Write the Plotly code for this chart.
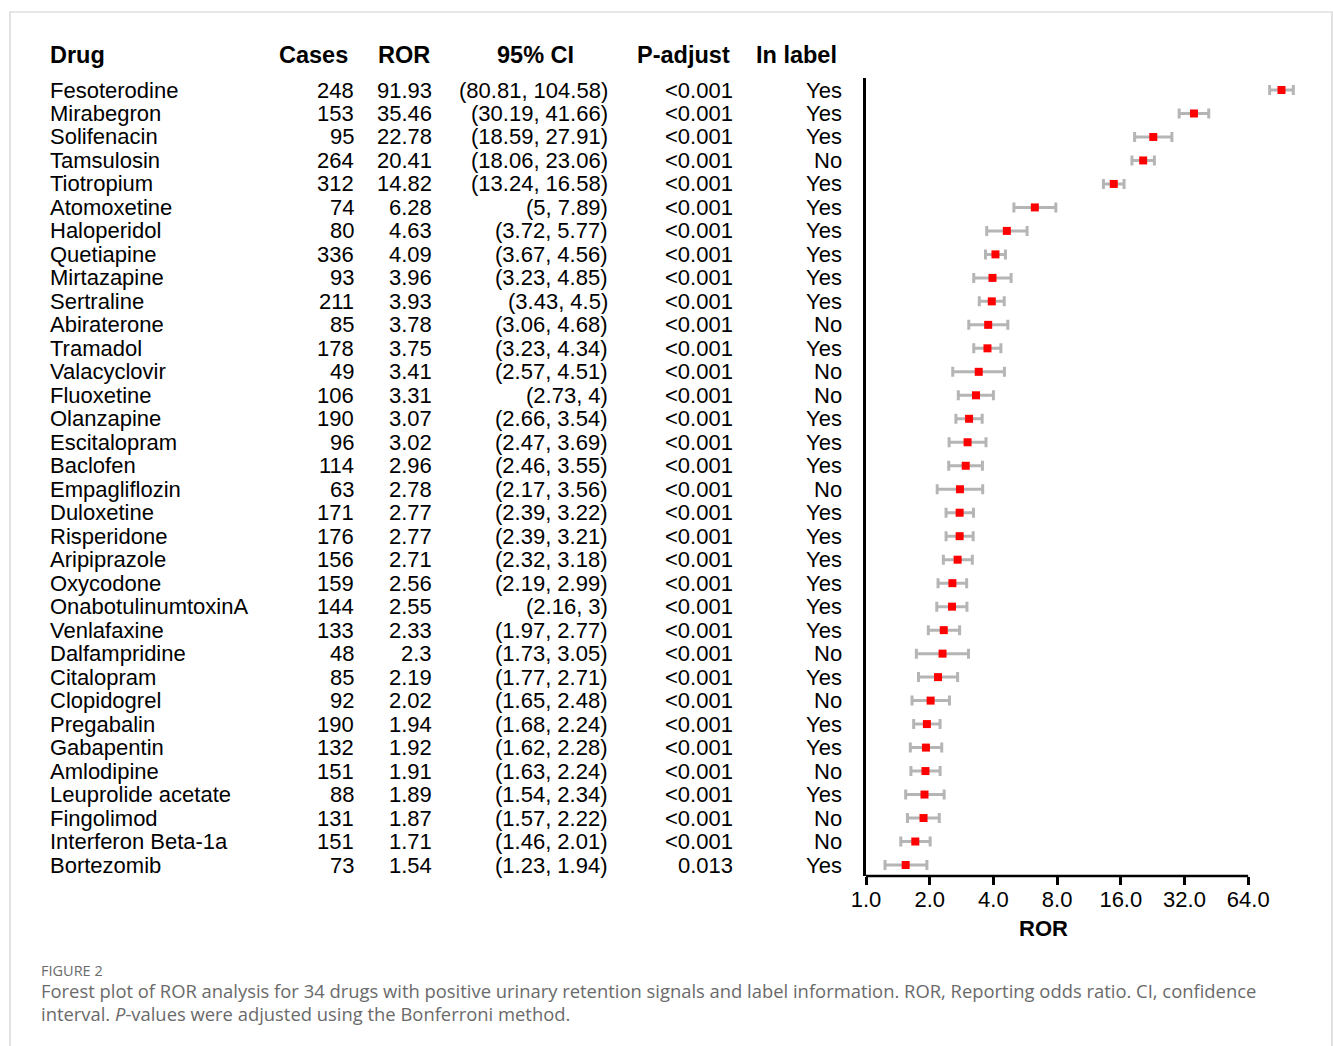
import math
import plotly.graph_objects as go

drugs = ["Fesoterodine", "Mirabegron", "Solifenacin", "Tamsulosin", "Tiotropium", "Atomoxetine",
         "Haloperidol", "Quetiapine", "Mirtazapine", "Sertraline", "Abiraterone", "Tramadol",
         "Valacyclovir", "Fluoxetine", "Olanzapine", "Escitalopram", "Baclofen", "Empagliflozin",
         "Duloxetine", "Risperidone", "Aripiprazole", "Oxycodone", "OnabotulinumtoxinA",
         "Venlafaxine", "Dalfampridine", "Citalopram", "Clopidogrel", "Pregabalin", "Gabapentin",
         "Amlodipine", "Leuprolide acetate", "Fingolimod", "Interferon Beta-1a", "Bortezomib"]
cases = [248, 153, 95, 264, 312, 74, 80, 336, 93, 211, 85, 178, 49, 106, 190, 96, 114, 63,
         171, 176, 156, 159, 144, 133, 48, 85, 92, 190, 132, 151, 88, 131, 151, 73]
ror = [91.93, 35.46, 22.78, 20.41, 14.82, 6.28, 4.63, 4.09, 3.96, 3.93, 3.78, 3.75, 3.41, 3.31,
       3.07, 3.02, 2.96, 2.78, 2.77, 2.77, 2.71, 2.56, 2.55, 2.33, 2.3, 2.19, 2.02, 1.94, 1.92,
       1.91, 1.89, 1.87, 1.71, 1.54]
ci_low = [80.81, 30.19, 18.59, 18.06, 13.24, 5, 3.72, 3.67, 3.23, 3.43, 3.06, 3.23, 2.57, 2.73,
          2.66, 2.47, 2.46, 2.17, 2.39, 2.39, 2.32, 2.19, 2.16, 1.97, 1.73, 1.77, 1.65, 1.68,
          1.62, 1.63, 1.54, 1.57, 1.46, 1.23]
ci_high = [104.58, 41.66, 27.91, 23.06, 16.58, 7.89, 5.77, 4.56, 4.85, 4.5, 4.68, 4.34, 4.51, 4,
           3.54, 3.69, 3.55, 3.56, 3.22, 3.21, 3.18, 2.99, 3, 2.77, 3.05, 2.71, 2.48, 2.24, 2.28,
           2.24, 2.34, 2.22, 2.01, 1.94]
p_adjust = ["<0.001"] * 33 + ["0.013"]
in_label = ["Yes", "Yes", "Yes", "No", "Yes", "Yes", "Yes", "Yes", "Yes", "Yes", "No", "Yes",
            "No", "No", "Yes", "Yes", "Yes", "No", "Yes", "Yes", "Yes", "Yes", "Yes", "Yes", "No",
            "Yes", "No", "Yes", "Yes", "No", "Yes", "No", "No", "Yes"]
headers = ["Drug", "Cases", "ROR", "95% CI", "P-adjust", "In label"]
x_ticks = [1, 2, 4, 8, 16, 32, 64]
x_tick_labels = ["1.0", "2.0", "4.0", "8.0", "16.0", "32.0", "64.0"]


def fmt(v):
    return ("%g" % v)


W, H = 1333, 1046
FONT = "Liberation Sans, Arial, sans-serif"
rows = list(range(len(drugs)))


def px(x):
    return x / W


def py(y):
    return 1 - y / H


# plot region
x_left_px, x_right_px = 866, 1310
px_per_doubling = 63.7
x_max_log2 = (x_right_px - x_left_px) / px_per_doubling
y_top_px, y_bot_px = 78, 876
row0_px, row_step = 90, (865 - 90) / 33
y_top_val = (y_top_px - row0_px) / row_step
y_bot_val = (y_bot_px - row0_px) / row_step

fig = go.Figure()
fig.add_trace(go.Scatter(
    x=ror, y=rows, mode="markers",
    marker=dict(symbol="square", size=8, color="#ff0000"),
    error_x=dict(type="data", symmetric=False,
                 array=[h - r for h, r in zip(ci_high, ror)],
                 arrayminus=[r - l for r, l in zip(ror, ci_low)],
                 color="#b5b5b5", thickness=3, width=5),
    showlegend=False, hoverinfo="skip"))

ann = []
hdr_font = dict(family=FONT, size=23.5, color="black")
hdr_pos = [(48, "left"), (350, "right"), (432, "right"), (535, "center"), (732, "right"), (839, "right")]
for h, (x, a) in zip(headers, hdr_pos):
    ann.append(dict(text="<b>%s</b>" % h, x=px(x), y=py(55), xref="paper", yref="paper",
                    xanchor=a, yanchor="middle", showarrow=False, font=hdr_font))

cell_font = dict(family=FONT, size=22, color="black")
for i in rows:
    cols = [(drugs[i], 48, "left"), (str(cases[i]), 356, "right"), (fmt(ror[i]), 434, "right"),
            ("(%s, %s)" % (fmt(ci_low[i]), fmt(ci_high[i])), 610, "right"),
            (p_adjust[i], 735, "right"), (in_label[i], 844, "right")]
    for t, x, a in cols:
        ann.append(dict(text=t, x=px(x), y=i, xref="paper", yref="y",
                        xanchor=a, yanchor="middle", showarrow=False, font=cell_font))

ann.append(dict(text="<b>ROR</b>", x=px(1043), y=py(928), xref="paper", yref="paper",
                xanchor="center", yanchor="middle", showarrow=False,
                font=dict(family=FONT, size=22, color="black")))
cap_font = "Open Sans, Noto Sans, sans-serif"
ann.append(dict(text="FIGURE 2", x=px(39), y=py(970), xref="paper", yref="paper",
                xanchor="left", yanchor="middle", showarrow=False,
                font=dict(family=cap_font, size=14.5, color="#6b6b6b")))
ann.append(dict(text="Forest plot of ROR analysis for 34 drugs with positive urinary retention signals and label information. ROR, Reporting odds ratio. CI, confidence",
                x=px(39), y=py(990), xref="paper", yref="paper",
                xanchor="left", yanchor="middle", showarrow=False,
                font=dict(family=cap_font, size=18.4, color="#6a6a6a")))
ann.append(dict(text="interval. <i>P</i>-values were adjusted using the Bonferroni method.",
                x=px(39), y=py(1013), xref="paper", yref="paper",
                xanchor="left", yanchor="middle", showarrow=False,
                font=dict(family=cap_font, size=18.4, color="#6a6a6a")))

shapes = [
    dict(type="line", xref="x", yref="paper", x0=1, x1=64, y0=py(y_bot_px), y1=py(y_bot_px),
         line=dict(color="black", width=2.5)),
    dict(type="rect", xref="paper", yref="paper", x0=px(10), x1=px(1332), y0=py(12), y1=py(1070),
         line=dict(color="#cfcfcf", width=1.2), layer="below"),
]

fig.update_layout(
    width=W, height=H, autosize=False,
    margin=dict(l=0, r=0, t=0, b=0, pad=0, autoexpand=False),
    paper_bgcolor="white", plot_bgcolor="white",
    annotations=ann, shapes=shapes,
    xaxis=dict(type="log", domain=[px(x_left_px), px(x_right_px)],
               range=[0, x_max_log2 * math.log10(2)],
               tickvals=x_ticks, ticktext=x_tick_labels,
               ticks="outside", ticklen=8, tickwidth=2.5, tickcolor="black",
               ticklabelstandoff=-4,
               tickfont=dict(family=FONT, size=22, color="black"),
               showgrid=False, zeroline=False, showline=False, automargin=False),
    yaxis=dict(domain=[py(y_bot_px), py(y_top_px)], range=[y_bot_val, y_top_val],
               showgrid=False, zeroline=False, showticklabels=False, ticks="",
               showline=True, linecolor="black", linewidth=2.5, automargin=False),
)

fig.write_html("out.html", config={"responsive": False, "displayModeBar": False},
               post_script="document.body.style.margin='0';document.body.style.overflow='hidden';")
